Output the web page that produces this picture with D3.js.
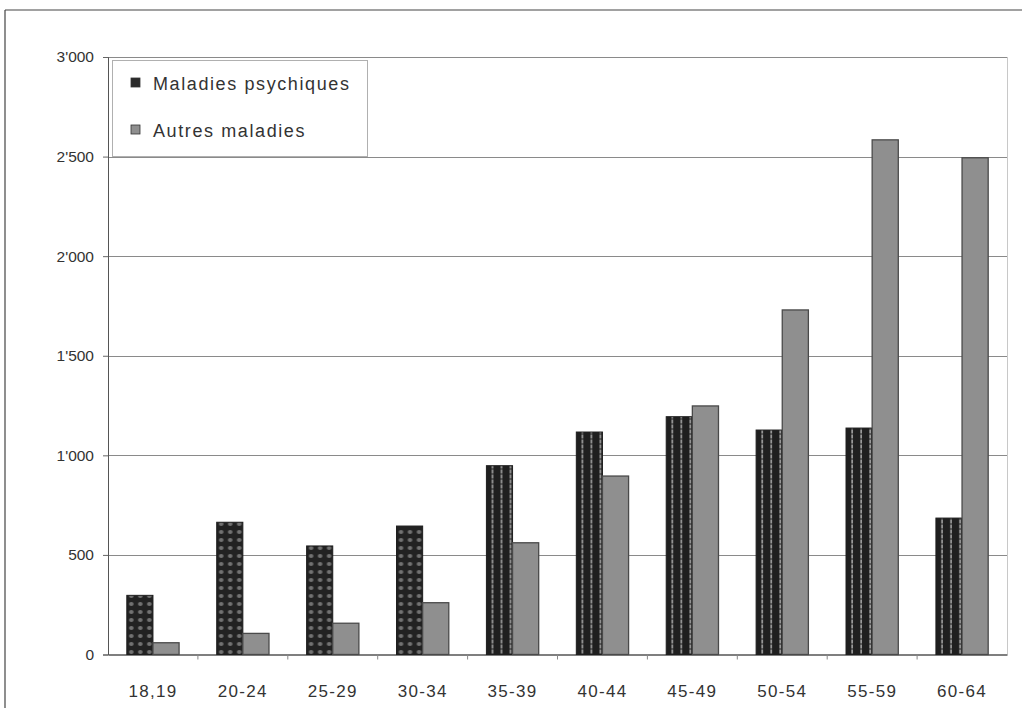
<!DOCTYPE html>
<html>
<head>
<meta charset="utf-8">
<script src="https://cdn.jsdelivr.net/npm/d3@7"></script>
<style>
  html, body { margin: 0; padding: 0; background: #fff; }
  svg { display: block; font-family: "Liberation Sans", Arial, sans-serif; }
</style>
</head>
<body>
<svg id="chart" width="1022" height="708"></svg>
<script>
// Age groups (x axis)
const categories = ["18,19", "20-24", "25-29", "30-34", "35-39", "40-44", "45-49", "50-54", "55-59", "60-64"];
// Series names
const seriesNames = ["Maladies psychiques", "Autres maladies"];
// Values per age group
const psychiques = [297, 664, 545, 645, 948, 1117, 1194, 1127, 1137, 685];
const autres = [59, 106, 157, 260, 561, 896, 1248, 1730, 2584, 2494];
// Y axis ticks and their labels
const yTicks = [0, 500, 1000, 1500, 2000, 2500, 3000];
const yTickLabels = ["0", "500", "1'000", "1'500", "2'000", "2'500", "3'000"];

const svg = d3.select("#chart");
const W = 1022, H = 708;

const plot = { left: 108, right: 1007, top: 57, bottom: 654.5 };

const x0 = d3.scaleBand().domain(categories).range([plot.left, plot.right]).paddingInner(0).paddingOuter(0);
const x1 = d3.scaleBand().domain(seriesNames).range([0, x0.bandwidth()]).paddingInner(0).paddingOuter(0.72);
const y = d3.scaleLinear().domain([0, 3000]).range([plot.bottom, plot.top]);

// Fill patterns for the bars
const defs = svg.append("defs");
const dots = defs.append("pattern").attr("id", "dots").attr("patternUnits", "userSpaceOnUse")
  .attr("width", 9).attr("height", 8);
dots.append("rect").attr("width", 9).attr("height", 8).attr("fill", "#222");
dots.append("ellipse").attr("cx", 4.5).attr("cy", 4).attr("rx", 2.3).attr("ry", 1.9).attr("fill", "#727272");

const stripes = defs.append("pattern").attr("id", "stripes").attr("patternUnits", "userSpaceOnUse")
  .attr("width", 9).attr("height", 5);
stripes.append("rect").attr("width", 9).attr("height", 5).attr("fill", "#1f1f1f");
stripes.append("rect").attr("x", 5.5).attr("y", 0).attr("width", 1.2).attr("height", 3).attr("fill", "#d0d0d0");
stripes.append("rect").attr("x", 5.5).attr("y", 3).attr("width", 1.2).attr("height", 2).attr("fill", "#7a7a7a");

// Outer frame
svg.append("line").attr("x1", 5).attr("x2", 5).attr("y1", 10).attr("y2", H)
  .attr("stroke", "#444").attr("stroke-width", 1.2);
svg.append("line").attr("x1", 5).attr("x2", W).attr("y1", 10).attr("y2", 10)
  .attr("stroke", "#444").attr("stroke-width", 1.2);

// Gridlines
svg.append("g").selectAll("line").data(yTicks.filter(d => d > 0)).join("line")
  .attr("x1", plot.left).attr("x2", plot.right)
  .attr("y1", d => Math.round(y(d)) + 0.5).attr("y2", d => Math.round(y(d)) + 0.5)
  .attr("stroke", "#8a8a8a").attr("stroke-width", 1);

// Right edge of plot area
svg.append("line").attr("x1", plot.right + 0.5).attr("x2", plot.right + 0.5)
  .attr("y1", plot.top).attr("y2", plot.bottom)
  .attr("stroke", "#c8c8c8").attr("stroke-width", 1);

// Y axis
const yAxis = d3.axisLeft(y).tickValues(yTicks)
  .tickFormat((d, i) => yTickLabels[i]).tickSize(5).tickPadding(9);
const gy = svg.append("g").attr("transform", `translate(${plot.left},0)`).call(yAxis);
gy.select(".domain").attr("stroke", "#555");
gy.selectAll(".tick line").attr("stroke", "#666");
gy.selectAll(".tick text").attr("fill", "#333").attr("font-size", 15.5)
  .attr("font-family", "'Liberation Sans', Arial, sans-serif");

// X axis
const xAxis = d3.axisBottom(x0).tickSize(0).tickPadding(30);
const gx = svg.append("g").attr("transform", `translate(0,${plot.bottom})`).call(xAxis);
gx.select(".domain").attr("stroke", "#555").attr("stroke-width", 1.5);
gx.selectAll(".tick text").attr("fill", "#333").attr("font-size", 17)
  .attr("font-family", "'Liberation Sans', Arial, sans-serif").attr("letter-spacing", 1.3);
// Tick marks between groups
svg.append("g").selectAll("line").data(categories.slice(1)).join("line")
  .attr("x1", d => x0(d)).attr("x2", d => x0(d))
  .attr("y1", plot.bottom).attr("y2", plot.bottom + 5)
  .attr("stroke", "#888");

// Bars
const rows = categories.map((c, i) => ({ cat: c, i, vals: [psychiques[i], autres[i]] }));
const groups = svg.append("g").selectAll("g").data(rows).join("g")
  .attr("transform", d => `translate(${x0(d.cat)},0)`);

groups.each(function (d) {
  const g = d3.select(this);
  // Maladies psychiques
  const xp = x1(seriesNames[0]);
  g.append("g").attr("transform", `translate(${xp},0)`)
    .append("rect")
    .attr("x", 0).attr("y", y(d.vals[0]))
    .attr("width", x1.bandwidth()).attr("height", y(0) - y(d.vals[0]))
    .attr("fill", d.i < 4 ? "url(#dots)" : "url(#stripes)")
    .attr("stroke", "#1e1e1e").attr("stroke-width", 1);
  // Autres maladies
  const xa = x1(seriesNames[1]);
  g.append("rect")
    .attr("x", xa).attr("y", y(d.vals[1]))
    .attr("width", x1.bandwidth()).attr("height", y(0) - y(d.vals[1]))
    .attr("fill", "#8f8f8f").attr("stroke", "#4a4a4a").attr("stroke-width", 1.3);
});

// Legend
const legend = svg.append("g");
legend.append("rect").attr("x", 112.5).attr("y", 60.5).attr("width", 255).attr("height", 96)
  .attr("fill", "#fff").attr("stroke", "#b0b0b0").attr("stroke-width", 1);
const legendItems = [
  { name: seriesNames[0], fill: "#2a2a2a", y: 83 },
  { name: seriesNames[1], fill: "#8f8f8f", y: 130 }
];
legend.selectAll("rect.key").data(legendItems).join("rect").attr("class", "key")
  .attr("x", 131).attr("y", d => d.y - 5).attr("width", 9).attr("height", 9)
  .attr("fill", d => d.fill).attr("stroke", "#333").attr("stroke-width", 0.8);
legend.selectAll("text").data(legendItems).join("text")
  .attr("x", 153).attr("y", d => d.y + 6.5)
  .attr("font-size", 18).attr("fill", "#333").attr("letter-spacing", 1.6)
  .text(d => d.name);
</script>
</body>
</html>
